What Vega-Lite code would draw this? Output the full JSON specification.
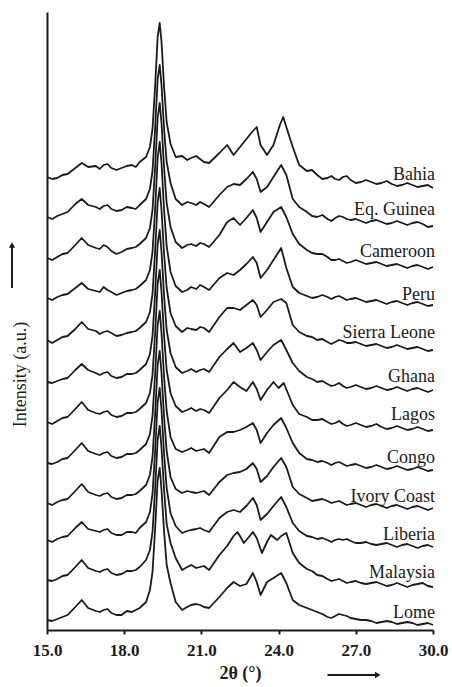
{
"$schema": "https://vega.github.io/schema/vega-lite/v6.json",
"width": 386, "height": 618,
"autosize": "none",
"padding": {"left": 47, "top": 12, "right": 19, "bottom": 57},
"background": "white",
"config": {"view": {"stroke": null}, "font": "Liberation Serif"},
"datasets": {
"xrd": [
{"s":"Bahia","x":15.0,"y":453},{"s":"Bahia","x":15.4,"y":452},{"s":"Bahia","x":15.8,"y":456},{"s":"Bahia","x":16.1,"y":462},{"s":"Bahia","x":16.35,"y":467},{"s":"Bahia","x":16.6,"y":463},{"s":"Bahia","x":16.9,"y":464},{"s":"Bahia","x":17.2,"y":465},{"s":"Bahia","x":17.5,"y":462},{"s":"Bahia","x":17.9,"y":462},{"s":"Bahia","x":18.3,"y":465},{"s":"Bahia","x":18.6,"y":468},{"s":"Bahia","x":18.85,"y":473},{"s":"Bahia","x":19.0,"y":483},{"s":"Bahia","x":19.1,"y":501},{"s":"Bahia","x":19.2,"y":543},{"s":"Bahia","x":19.3,"y":593},{"s":"Bahia","x":19.38,"y":607},{"s":"Bahia","x":19.45,"y":588},{"s":"Bahia","x":19.55,"y":543},{"s":"Bahia","x":19.65,"y":508},{"s":"Bahia","x":19.8,"y":486},{"s":"Bahia","x":20.0,"y":473},{"s":"Bahia","x":20.25,"y":474},{"s":"Bahia","x":20.6,"y":472},{"s":"Bahia","x":20.95,"y":471},{"s":"Bahia","x":21.3,"y":467},{"s":"Bahia","x":21.7,"y":477},{"s":"Bahia","x":22.0,"y":485},{"s":"Bahia","x":22.25,"y":475},{"s":"Bahia","x":22.5,"y":483},{"s":"Bahia","x":22.75,"y":491},{"s":"Bahia","x":23.0,"y":499},{"s":"Bahia","x":23.15,"y":503},{"s":"Bahia","x":23.3,"y":485},{"s":"Bahia","x":23.55,"y":475},{"s":"Bahia","x":23.8,"y":485},{"s":"Bahia","x":24.05,"y":505},{"s":"Bahia","x":24.18,"y":513},{"s":"Bahia","x":24.3,"y":503},{"s":"Bahia","x":24.55,"y":483},{"s":"Bahia","x":24.8,"y":465},{"s":"Bahia","x":25.1,"y":459},{"s":"Bahia","x":25.3,"y":460},{"s":"Bahia","x":25.5,"y":455},{"s":"Bahia","x":25.9,"y":452},{"s":"Bahia","x":26.2,"y":451},{"s":"Bahia","x":26.5,"y":453},{"s":"Bahia","x":26.8,"y":450},{"s":"Bahia","x":27.2,"y":448},{"s":"Bahia","x":27.6,"y":448},{"s":"Bahia","x":28.0,"y":447},{"s":"Bahia","x":28.4,"y":446},{"s":"Bahia","x":28.8,"y":445},{"s":"Bahia","x":29.2,"y":445},{"s":"Bahia","x":29.6,"y":444},{"s":"Bahia","x":30.0,"y":442},
{"s":"Bahia","x":25.7,"y":451},{"s":"Bahia","x":26.05,"y":454},{"s":"Bahia","x":26.35,"y":450},{"s":"Bahia","x":26.65,"y":454},{"s":"Bahia","x":27.0,"y":447},{"s":"Bahia","x":27.4,"y":450},{"s":"Bahia","x":27.8,"y":446},{"s":"Bahia","x":28.2,"y":449},{"s":"Bahia","x":28.6,"y":444},{"s":"Bahia","x":29.0,"y":447},{"s":"Bahia","x":29.4,"y":443},{"s":"Bahia","x":29.8,"y":445},{"s":"Bahia","x":15.2,"y":451},{"s":"Bahia","x":15.6,"y":455},{"s":"Bahia","x":17.05,"y":461},{"s":"Bahia","x":17.35,"y":466},{"s":"Bahia","x":17.7,"y":460},{"s":"Bahia","x":18.1,"y":464},{"s":"Bahia","x":18.45,"y":463},{"s":"Bahia","x":20.45,"y":470},{"s":"Bahia","x":20.8,"y":474},{"s":"Bahia","x":21.1,"y":468},
{"s":"Eq. Guinea","x":15.0,"y":413},{"s":"Eq. Guinea","x":15.4,"y":414},{"s":"Eq. Guinea","x":15.8,"y":418},{"s":"Eq. Guinea","x":16.1,"y":426},{"s":"Eq. Guinea","x":16.35,"y":431},{"s":"Eq. Guinea","x":16.6,"y":425},{"s":"Eq. Guinea","x":16.9,"y":423},{"s":"Eq. Guinea","x":17.2,"y":424},{"s":"Eq. Guinea","x":17.5,"y":421},{"s":"Eq. Guinea","x":17.9,"y":420},{"s":"Eq. Guinea","x":18.3,"y":422},{"s":"Eq. Guinea","x":18.6,"y":425},{"s":"Eq. Guinea","x":18.85,"y":431},{"s":"Eq. Guinea","x":19.0,"y":441},{"s":"Eq. Guinea","x":19.1,"y":459},{"s":"Eq. Guinea","x":19.2,"y":501},{"s":"Eq. Guinea","x":19.3,"y":551},{"s":"Eq. Guinea","x":19.38,"y":565},{"s":"Eq. Guinea","x":19.45,"y":545},{"s":"Eq. Guinea","x":19.55,"y":501},{"s":"Eq. Guinea","x":19.65,"y":468},{"s":"Eq. Guinea","x":19.8,"y":447},{"s":"Eq. Guinea","x":20.0,"y":431},{"s":"Eq. Guinea","x":20.25,"y":425},{"s":"Eq. Guinea","x":20.6,"y":427},{"s":"Eq. Guinea","x":20.95,"y":428},{"s":"Eq. Guinea","x":21.3,"y":423},{"s":"Eq. Guinea","x":21.7,"y":435},{"s":"Eq. Guinea","x":22.0,"y":443},{"s":"Eq. Guinea","x":22.25,"y":446},{"s":"Eq. Guinea","x":22.5,"y":445},{"s":"Eq. Guinea","x":22.75,"y":451},{"s":"Eq. Guinea","x":23.0,"y":458},{"s":"Eq. Guinea","x":23.15,"y":451},{"s":"Eq. Guinea","x":23.3,"y":438},{"s":"Eq. Guinea","x":23.55,"y":443},{"s":"Eq. Guinea","x":23.8,"y":453},{"s":"Eq. Guinea","x":24.1,"y":465},{"s":"Eq. Guinea","x":24.3,"y":455},{"s":"Eq. Guinea","x":24.55,"y":431},{"s":"Eq. Guinea","x":24.8,"y":423},{"s":"Eq. Guinea","x":25.1,"y":418},{"s":"Eq. Guinea","x":25.5,"y":413},{"s":"Eq. Guinea","x":25.9,"y":411},{"s":"Eq. Guinea","x":26.2,"y":412},{"s":"Eq. Guinea","x":26.5,"y":413},{"s":"Eq. Guinea","x":26.8,"y":410},{"s":"Eq. Guinea","x":27.2,"y":409},{"s":"Eq. Guinea","x":27.6,"y":409},{"s":"Eq. Guinea","x":28.0,"y":408},{"s":"Eq. Guinea","x":28.4,"y":407},{"s":"Eq. Guinea","x":28.8,"y":407},{"s":"Eq. Guinea","x":29.2,"y":407},{"s":"Eq. Guinea","x":29.6,"y":406},{"s":"Eq. Guinea","x":30.0,"y":404},
{"s":"Eq. Guinea","x":25.3,"y":414},{"s":"Eq. Guinea","x":25.7,"y":415},{"s":"Eq. Guinea","x":26.05,"y":409},{"s":"Eq. Guinea","x":26.35,"y":414},{"s":"Eq. Guinea","x":26.65,"y":411},{"s":"Eq. Guinea","x":27.0,"y":411},{"s":"Eq. Guinea","x":27.4,"y":407},{"s":"Eq. Guinea","x":27.8,"y":410},{"s":"Eq. Guinea","x":28.2,"y":406},{"s":"Eq. Guinea","x":28.6,"y":409},{"s":"Eq. Guinea","x":29.0,"y":405},{"s":"Eq. Guinea","x":29.4,"y":408},{"s":"Eq. Guinea","x":29.8,"y":403},{"s":"Eq. Guinea","x":15.2,"y":411},{"s":"Eq. Guinea","x":15.6,"y":416},{"s":"Eq. Guinea","x":17.05,"y":421},{"s":"Eq. Guinea","x":17.35,"y":425},{"s":"Eq. Guinea","x":17.7,"y":419},{"s":"Eq. Guinea","x":18.1,"y":423},{"s":"Eq. Guinea","x":18.45,"y":421},{"s":"Eq. Guinea","x":20.45,"y":428},{"s":"Eq. Guinea","x":20.8,"y":425},{"s":"Eq. Guinea","x":21.1,"y":426},
{"s":"Cameroon","x":15.0,"y":372},{"s":"Cameroon","x":15.4,"y":373},{"s":"Cameroon","x":15.8,"y":377},{"s":"Cameroon","x":16.1,"y":385},{"s":"Cameroon","x":16.35,"y":392},{"s":"Cameroon","x":16.6,"y":385},{"s":"Cameroon","x":16.9,"y":382},{"s":"Cameroon","x":17.2,"y":385},{"s":"Cameroon","x":17.5,"y":379},{"s":"Cameroon","x":17.9,"y":378},{"s":"Cameroon","x":18.3,"y":382},{"s":"Cameroon","x":18.6,"y":386},{"s":"Cameroon","x":18.85,"y":392},{"s":"Cameroon","x":19.0,"y":402},{"s":"Cameroon","x":19.1,"y":420},{"s":"Cameroon","x":19.2,"y":462},{"s":"Cameroon","x":19.3,"y":512},{"s":"Cameroon","x":19.38,"y":527},{"s":"Cameroon","x":19.45,"y":507},{"s":"Cameroon","x":19.55,"y":462},{"s":"Cameroon","x":19.65,"y":427},{"s":"Cameroon","x":19.8,"y":403},{"s":"Cameroon","x":20.0,"y":388},{"s":"Cameroon","x":20.25,"y":382},{"s":"Cameroon","x":20.6,"y":386},{"s":"Cameroon","x":20.95,"y":387},{"s":"Cameroon","x":21.3,"y":383},{"s":"Cameroon","x":21.7,"y":395},{"s":"Cameroon","x":22.0,"y":408},{"s":"Cameroon","x":22.25,"y":412},{"s":"Cameroon","x":22.5,"y":405},{"s":"Cameroon","x":22.75,"y":412},{"s":"Cameroon","x":23.0,"y":420},{"s":"Cameroon","x":23.15,"y":412},{"s":"Cameroon","x":23.3,"y":398},{"s":"Cameroon","x":23.55,"y":408},{"s":"Cameroon","x":23.8,"y":418},{"s":"Cameroon","x":24.1,"y":423},{"s":"Cameroon","x":24.3,"y":413},{"s":"Cameroon","x":24.55,"y":396},{"s":"Cameroon","x":24.8,"y":386},{"s":"Cameroon","x":25.1,"y":380},{"s":"Cameroon","x":25.5,"y":376},{"s":"Cameroon","x":25.9,"y":373},{"s":"Cameroon","x":26.2,"y":370},{"s":"Cameroon","x":26.5,"y":369},{"s":"Cameroon","x":26.8,"y":368},{"s":"Cameroon","x":27.2,"y":368},{"s":"Cameroon","x":27.6,"y":367},{"s":"Cameroon","x":28.0,"y":366},{"s":"Cameroon","x":28.4,"y":365},{"s":"Cameroon","x":28.8,"y":364},{"s":"Cameroon","x":29.2,"y":364},{"s":"Cameroon","x":29.6,"y":363},{"s":"Cameroon","x":30.0,"y":363},
{"s":"Cameroon","x":25.3,"y":377},{"s":"Cameroon","x":25.7,"y":376},{"s":"Cameroon","x":26.05,"y":370},{"s":"Cameroon","x":26.35,"y":371},{"s":"Cameroon","x":26.65,"y":367},{"s":"Cameroon","x":27.0,"y":370},{"s":"Cameroon","x":27.4,"y":366},{"s":"Cameroon","x":27.8,"y":368},{"s":"Cameroon","x":28.2,"y":364},{"s":"Cameroon","x":28.6,"y":366},{"s":"Cameroon","x":29.0,"y":362},{"s":"Cameroon","x":29.4,"y":365},{"s":"Cameroon","x":29.8,"y":361},{"s":"Cameroon","x":15.2,"y":370},{"s":"Cameroon","x":15.6,"y":376},{"s":"Cameroon","x":17.05,"y":381},{"s":"Cameroon","x":17.35,"y":383},{"s":"Cameroon","x":17.7,"y":376},{"s":"Cameroon","x":18.1,"y":381},{"s":"Cameroon","x":18.45,"y":383},{"s":"Cameroon","x":20.45,"y":385},{"s":"Cameroon","x":20.8,"y":384},{"s":"Cameroon","x":21.1,"y":386},
{"s":"Peru","x":15.0,"y":332},{"s":"Peru","x":15.4,"y":333},{"s":"Peru","x":15.8,"y":336},{"s":"Peru","x":16.1,"y":342},{"s":"Peru","x":16.35,"y":347},{"s":"Peru","x":16.6,"y":341},{"s":"Peru","x":16.9,"y":339},{"s":"Peru","x":17.2,"y":343},{"s":"Peru","x":17.5,"y":338},{"s":"Peru","x":17.9,"y":337},{"s":"Peru","x":18.3,"y":340},{"s":"Peru","x":18.6,"y":344},{"s":"Peru","x":18.85,"y":350},{"s":"Peru","x":19.0,"y":360},{"s":"Peru","x":19.1,"y":378},{"s":"Peru","x":19.2,"y":420},{"s":"Peru","x":19.3,"y":472},{"s":"Peru","x":19.38,"y":488},{"s":"Peru","x":19.45,"y":467},{"s":"Peru","x":19.55,"y":420},{"s":"Peru","x":19.65,"y":384},{"s":"Peru","x":19.8,"y":358},{"s":"Peru","x":20.0,"y":344},{"s":"Peru","x":20.25,"y":338},{"s":"Peru","x":20.6,"y":343},{"s":"Peru","x":20.95,"y":345},{"s":"Peru","x":21.3,"y":340},{"s":"Peru","x":21.7,"y":352},{"s":"Peru","x":22.0,"y":357},{"s":"Peru","x":22.25,"y":355},{"s":"Peru","x":22.5,"y":360},{"s":"Peru","x":22.75,"y":366},{"s":"Peru","x":23.0,"y":373},{"s":"Peru","x":23.15,"y":367},{"s":"Peru","x":23.3,"y":352},{"s":"Peru","x":23.55,"y":360},{"s":"Peru","x":23.8,"y":370},{"s":"Peru","x":24.1,"y":382},{"s":"Peru","x":24.3,"y":362},{"s":"Peru","x":24.55,"y":343},{"s":"Peru","x":24.8,"y":337},{"s":"Peru","x":25.1,"y":334},{"s":"Peru","x":25.5,"y":333},{"s":"Peru","x":25.9,"y":333},{"s":"Peru","x":26.2,"y":333},{"s":"Peru","x":26.5,"y":332},{"s":"Peru","x":26.8,"y":331},{"s":"Peru","x":27.2,"y":330},{"s":"Peru","x":27.6,"y":329},{"s":"Peru","x":28.0,"y":328},{"s":"Peru","x":28.4,"y":328},{"s":"Peru","x":28.8,"y":327},{"s":"Peru","x":29.2,"y":327},{"s":"Peru","x":29.6,"y":326},{"s":"Peru","x":30.0,"y":325},
{"s":"Peru","x":25.3,"y":332},{"s":"Peru","x":25.7,"y":335},{"s":"Peru","x":26.05,"y":331},{"s":"Peru","x":26.35,"y":334},{"s":"Peru","x":26.65,"y":330},{"s":"Peru","x":27.0,"y":332},{"s":"Peru","x":27.4,"y":328},{"s":"Peru","x":27.8,"y":330},{"s":"Peru","x":28.2,"y":326},{"s":"Peru","x":28.6,"y":329},{"s":"Peru","x":29.0,"y":325},{"s":"Peru","x":29.4,"y":328},{"s":"Peru","x":29.8,"y":324},{"s":"Peru","x":15.2,"y":330},{"s":"Peru","x":15.6,"y":335},{"s":"Peru","x":17.05,"y":338},{"s":"Peru","x":17.35,"y":340},{"s":"Peru","x":17.7,"y":335},{"s":"Peru","x":18.1,"y":339},{"s":"Peru","x":18.45,"y":341},{"s":"Peru","x":20.45,"y":340},{"s":"Peru","x":20.8,"y":341},{"s":"Peru","x":21.1,"y":343},
{"s":"Sierra Leone","x":15.0,"y":290},{"s":"Sierra Leone","x":15.4,"y":290},{"s":"Sierra Leone","x":15.8,"y":294},{"s":"Sierra Leone","x":16.1,"y":301},{"s":"Sierra Leone","x":16.35,"y":308},{"s":"Sierra Leone","x":16.6,"y":301},{"s":"Sierra Leone","x":16.9,"y":299},{"s":"Sierra Leone","x":17.2,"y":298},{"s":"Sierra Leone","x":17.5,"y":297},{"s":"Sierra Leone","x":17.9,"y":295},{"s":"Sierra Leone","x":18.3,"y":298},{"s":"Sierra Leone","x":18.6,"y":302},{"s":"Sierra Leone","x":18.85,"y":308},{"s":"Sierra Leone","x":19.0,"y":318},{"s":"Sierra Leone","x":19.1,"y":336},{"s":"Sierra Leone","x":19.2,"y":378},{"s":"Sierra Leone","x":19.3,"y":428},{"s":"Sierra Leone","x":19.38,"y":442},{"s":"Sierra Leone","x":19.45,"y":420},{"s":"Sierra Leone","x":19.55,"y":376},{"s":"Sierra Leone","x":19.65,"y":342},{"s":"Sierra Leone","x":19.8,"y":317},{"s":"Sierra Leone","x":20.0,"y":304},{"s":"Sierra Leone","x":20.25,"y":298},{"s":"Sierra Leone","x":20.6,"y":301},{"s":"Sierra Leone","x":20.95,"y":303},{"s":"Sierra Leone","x":21.3,"y":298},{"s":"Sierra Leone","x":21.7,"y":313},{"s":"Sierra Leone","x":22.0,"y":322},{"s":"Sierra Leone","x":22.25,"y":322},{"s":"Sierra Leone","x":22.5,"y":320},{"s":"Sierra Leone","x":22.75,"y":325},{"s":"Sierra Leone","x":23.0,"y":330},{"s":"Sierra Leone","x":23.15,"y":325},{"s":"Sierra Leone","x":23.3,"y":313},{"s":"Sierra Leone","x":23.55,"y":320},{"s":"Sierra Leone","x":23.8,"y":328},{"s":"Sierra Leone","x":24.1,"y":331},{"s":"Sierra Leone","x":24.3,"y":327},{"s":"Sierra Leone","x":24.55,"y":305},{"s":"Sierra Leone","x":24.8,"y":298},{"s":"Sierra Leone","x":25.1,"y":294},{"s":"Sierra Leone","x":25.5,"y":290},{"s":"Sierra Leone","x":25.9,"y":288},{"s":"Sierra Leone","x":26.2,"y":288},{"s":"Sierra Leone","x":26.5,"y":289},{"s":"Sierra Leone","x":26.8,"y":287},{"s":"Sierra Leone","x":27.2,"y":286},{"s":"Sierra Leone","x":27.6,"y":285},{"s":"Sierra Leone","x":28.0,"y":284},{"s":"Sierra Leone","x":28.4,"y":283},{"s":"Sierra Leone","x":28.8,"y":283},{"s":"Sierra Leone","x":29.2,"y":282},{"s":"Sierra Leone","x":29.6,"y":281},{"s":"Sierra Leone","x":30.0,"y":280},
{"s":"Sierra Leone","x":25.3,"y":293},{"s":"Sierra Leone","x":25.7,"y":291},{"s":"Sierra Leone","x":26.05,"y":286},{"s":"Sierra Leone","x":26.35,"y":290},{"s":"Sierra Leone","x":26.65,"y":287},{"s":"Sierra Leone","x":27.0,"y":288},{"s":"Sierra Leone","x":27.4,"y":284},{"s":"Sierra Leone","x":27.8,"y":286},{"s":"Sierra Leone","x":28.2,"y":282},{"s":"Sierra Leone","x":28.6,"y":285},{"s":"Sierra Leone","x":29.0,"y":281},{"s":"Sierra Leone","x":29.4,"y":283},{"s":"Sierra Leone","x":29.8,"y":279},{"s":"Sierra Leone","x":15.2,"y":287},{"s":"Sierra Leone","x":15.6,"y":293},{"s":"Sierra Leone","x":17.05,"y":296},{"s":"Sierra Leone","x":17.35,"y":299},{"s":"Sierra Leone","x":17.7,"y":294},{"s":"Sierra Leone","x":18.1,"y":297},{"s":"Sierra Leone","x":18.45,"y":299},{"s":"Sierra Leone","x":20.45,"y":302},{"s":"Sierra Leone","x":20.8,"y":300},{"s":"Sierra Leone","x":21.1,"y":302},
{"s":"Ghana","x":15.0,"y":248},{"s":"Ghana","x":15.4,"y":249},{"s":"Ghana","x":15.8,"y":252},{"s":"Ghana","x":16.1,"y":260},{"s":"Ghana","x":16.35,"y":266},{"s":"Ghana","x":16.6,"y":260},{"s":"Ghana","x":16.9,"y":257},{"s":"Ghana","x":17.2,"y":257},{"s":"Ghana","x":17.5,"y":254},{"s":"Ghana","x":17.9,"y":253},{"s":"Ghana","x":18.3,"y":256},{"s":"Ghana","x":18.6,"y":260},{"s":"Ghana","x":18.85,"y":266},{"s":"Ghana","x":19.0,"y":276},{"s":"Ghana","x":19.1,"y":294},{"s":"Ghana","x":19.2,"y":336},{"s":"Ghana","x":19.3,"y":386},{"s":"Ghana","x":19.38,"y":400},{"s":"Ghana","x":19.45,"y":378},{"s":"Ghana","x":19.55,"y":334},{"s":"Ghana","x":19.65,"y":300},{"s":"Ghana","x":19.8,"y":277},{"s":"Ghana","x":20.0,"y":263},{"s":"Ghana","x":20.25,"y":257},{"s":"Ghana","x":20.6,"y":261},{"s":"Ghana","x":20.95,"y":260},{"s":"Ghana","x":21.3,"y":258},{"s":"Ghana","x":21.7,"y":273},{"s":"Ghana","x":22.0,"y":281},{"s":"Ghana","x":22.25,"y":287},{"s":"Ghana","x":22.5,"y":278},{"s":"Ghana","x":22.75,"y":282},{"s":"Ghana","x":23.0,"y":287},{"s":"Ghana","x":23.15,"y":280},{"s":"Ghana","x":23.3,"y":270},{"s":"Ghana","x":23.55,"y":278},{"s":"Ghana","x":23.8,"y":285},{"s":"Ghana","x":24.1,"y":290},{"s":"Ghana","x":24.3,"y":280},{"s":"Ghana","x":24.55,"y":267},{"s":"Ghana","x":24.8,"y":259},{"s":"Ghana","x":25.1,"y":253},{"s":"Ghana","x":25.5,"y":248},{"s":"Ghana","x":25.9,"y":246},{"s":"Ghana","x":26.2,"y":245},{"s":"Ghana","x":26.5,"y":244},{"s":"Ghana","x":26.8,"y":243},{"s":"Ghana","x":27.2,"y":243},{"s":"Ghana","x":27.6,"y":242},{"s":"Ghana","x":28.0,"y":242},{"s":"Ghana","x":28.4,"y":241},{"s":"Ghana","x":28.8,"y":241},{"s":"Ghana","x":29.2,"y":241},{"s":"Ghana","x":29.6,"y":240},{"s":"Ghana","x":30.0,"y":240},
{"s":"Ghana","x":25.3,"y":251},{"s":"Ghana","x":25.7,"y":249},{"s":"Ghana","x":26.05,"y":244},{"s":"Ghana","x":26.35,"y":247},{"s":"Ghana","x":26.65,"y":242},{"s":"Ghana","x":27.0,"y":245},{"s":"Ghana","x":27.4,"y":241},{"s":"Ghana","x":27.8,"y":244},{"s":"Ghana","x":28.2,"y":240},{"s":"Ghana","x":28.6,"y":243},{"s":"Ghana","x":29.0,"y":239},{"s":"Ghana","x":29.4,"y":242},{"s":"Ghana","x":29.8,"y":238},{"s":"Ghana","x":15.2,"y":247},{"s":"Ghana","x":15.6,"y":251},{"s":"Ghana","x":17.05,"y":255},{"s":"Ghana","x":17.35,"y":258},{"s":"Ghana","x":17.7,"y":252},{"s":"Ghana","x":18.1,"y":256},{"s":"Ghana","x":18.45,"y":257},{"s":"Ghana","x":20.45,"y":259},{"s":"Ghana","x":20.8,"y":258},{"s":"Ghana","x":21.1,"y":261},
{"s":"Lagos","x":15.0,"y":208},{"s":"Lagos","x":15.4,"y":209},{"s":"Lagos","x":15.8,"y":213},{"s":"Lagos","x":16.1,"y":221},{"s":"Lagos","x":16.35,"y":228},{"s":"Lagos","x":16.6,"y":220},{"s":"Lagos","x":16.9,"y":217},{"s":"Lagos","x":17.2,"y":218},{"s":"Lagos","x":17.5,"y":215},{"s":"Lagos","x":17.9,"y":214},{"s":"Lagos","x":18.3,"y":217},{"s":"Lagos","x":18.6,"y":221},{"s":"Lagos","x":18.85,"y":227},{"s":"Lagos","x":19.0,"y":237},{"s":"Lagos","x":19.1,"y":255},{"s":"Lagos","x":19.2,"y":296},{"s":"Lagos","x":19.3,"y":346},{"s":"Lagos","x":19.38,"y":360},{"s":"Lagos","x":19.45,"y":338},{"s":"Lagos","x":19.55,"y":294},{"s":"Lagos","x":19.65,"y":260},{"s":"Lagos","x":19.8,"y":237},{"s":"Lagos","x":20.0,"y":224},{"s":"Lagos","x":20.25,"y":218},{"s":"Lagos","x":20.6,"y":222},{"s":"Lagos","x":20.95,"y":221},{"s":"Lagos","x":21.3,"y":217},{"s":"Lagos","x":21.7,"y":232},{"s":"Lagos","x":22.0,"y":240},{"s":"Lagos","x":22.25,"y":248},{"s":"Lagos","x":22.5,"y":243},{"s":"Lagos","x":22.75,"y":239},{"s":"Lagos","x":23.0,"y":248},{"s":"Lagos","x":23.15,"y":241},{"s":"Lagos","x":23.3,"y":230},{"s":"Lagos","x":23.55,"y":240},{"s":"Lagos","x":23.8,"y":248},{"s":"Lagos","x":24.0,"y":242},{"s":"Lagos","x":24.2,"y":247},{"s":"Lagos","x":24.55,"y":225},{"s":"Lagos","x":24.8,"y":216},{"s":"Lagos","x":25.1,"y":213},{"s":"Lagos","x":25.5,"y":210},{"s":"Lagos","x":25.9,"y":208},{"s":"Lagos","x":26.2,"y":207},{"s":"Lagos","x":26.5,"y":206},{"s":"Lagos","x":26.8,"y":205},{"s":"Lagos","x":27.2,"y":205},{"s":"Lagos","x":27.6,"y":204},{"s":"Lagos","x":28.0,"y":203},{"s":"Lagos","x":28.4,"y":202},{"s":"Lagos","x":28.8,"y":202},{"s":"Lagos","x":29.2,"y":201},{"s":"Lagos","x":29.6,"y":201},{"s":"Lagos","x":30.0,"y":200},
{"s":"Lagos","x":25.3,"y":210},{"s":"Lagos","x":25.7,"y":211},{"s":"Lagos","x":26.05,"y":206},{"s":"Lagos","x":26.35,"y":209},{"s":"Lagos","x":26.65,"y":204},{"s":"Lagos","x":27.0,"y":207},{"s":"Lagos","x":27.4,"y":203},{"s":"Lagos","x":27.8,"y":206},{"s":"Lagos","x":28.2,"y":201},{"s":"Lagos","x":28.6,"y":204},{"s":"Lagos","x":29.0,"y":200},{"s":"Lagos","x":29.4,"y":203},{"s":"Lagos","x":29.8,"y":199},{"s":"Lagos","x":15.2,"y":206},{"s":"Lagos","x":15.6,"y":212},{"s":"Lagos","x":17.05,"y":216},{"s":"Lagos","x":17.35,"y":219},{"s":"Lagos","x":17.7,"y":213},{"s":"Lagos","x":18.1,"y":217},{"s":"Lagos","x":18.45,"y":218},{"s":"Lagos","x":20.45,"y":220},{"s":"Lagos","x":20.8,"y":219},{"s":"Lagos","x":21.1,"y":220},
{"s":"Congo","x":15.0,"y":167},{"s":"Congo","x":15.4,"y":168},{"s":"Congo","x":15.8,"y":172},{"s":"Congo","x":16.1,"y":180},{"s":"Congo","x":16.35,"y":187},{"s":"Congo","x":16.6,"y":179},{"s":"Congo","x":16.9,"y":176},{"s":"Congo","x":17.2,"y":177},{"s":"Congo","x":17.5,"y":174},{"s":"Congo","x":17.9,"y":173},{"s":"Congo","x":18.3,"y":176},{"s":"Congo","x":18.6,"y":180},{"s":"Congo","x":18.85,"y":186},{"s":"Congo","x":19.0,"y":196},{"s":"Congo","x":19.1,"y":214},{"s":"Congo","x":19.2,"y":255},{"s":"Congo","x":19.3,"y":305},{"s":"Congo","x":19.38,"y":319},{"s":"Congo","x":19.45,"y":297},{"s":"Congo","x":19.55,"y":253},{"s":"Congo","x":19.65,"y":219},{"s":"Congo","x":19.8,"y":193},{"s":"Congo","x":20.0,"y":181},{"s":"Congo","x":20.25,"y":178},{"s":"Congo","x":20.6,"y":182},{"s":"Congo","x":20.95,"y":180},{"s":"Congo","x":21.3,"y":177},{"s":"Congo","x":21.7,"y":193},{"s":"Congo","x":22.0,"y":198},{"s":"Congo","x":22.25,"y":198},{"s":"Congo","x":22.5,"y":200},{"s":"Congo","x":22.75,"y":203},{"s":"Congo","x":23.0,"y":207},{"s":"Congo","x":23.15,"y":200},{"s":"Congo","x":23.3,"y":187},{"s":"Congo","x":23.55,"y":197},{"s":"Congo","x":23.8,"y":205},{"s":"Congo","x":24.1,"y":212},{"s":"Congo","x":24.3,"y":202},{"s":"Congo","x":24.55,"y":187},{"s":"Congo","x":24.8,"y":177},{"s":"Congo","x":25.1,"y":171},{"s":"Congo","x":25.5,"y":168},{"s":"Congo","x":25.9,"y":167},{"s":"Congo","x":26.2,"y":167},{"s":"Congo","x":26.5,"y":166},{"s":"Congo","x":26.8,"y":165},{"s":"Congo","x":27.2,"y":164},{"s":"Congo","x":27.6,"y":163},{"s":"Congo","x":28.0,"y":163},{"s":"Congo","x":28.4,"y":162},{"s":"Congo","x":28.8,"y":162},{"s":"Congo","x":29.2,"y":161},{"s":"Congo","x":29.6,"y":161},{"s":"Congo","x":30.0,"y":160},
{"s":"Congo","x":25.3,"y":170},{"s":"Congo","x":25.7,"y":169},{"s":"Congo","x":26.05,"y":165},{"s":"Congo","x":26.35,"y":168},{"s":"Congo","x":26.65,"y":164},{"s":"Congo","x":27.0,"y":166},{"s":"Congo","x":27.4,"y":162},{"s":"Congo","x":27.8,"y":165},{"s":"Congo","x":28.2,"y":161},{"s":"Congo","x":28.6,"y":164},{"s":"Congo","x":29.0,"y":160},{"s":"Congo","x":29.4,"y":163},{"s":"Congo","x":29.8,"y":159},{"s":"Congo","x":15.2,"y":166},{"s":"Congo","x":15.6,"y":171},{"s":"Congo","x":17.05,"y":175},{"s":"Congo","x":17.35,"y":178},{"s":"Congo","x":17.7,"y":172},{"s":"Congo","x":18.1,"y":176},{"s":"Congo","x":18.45,"y":177},{"s":"Congo","x":20.45,"y":180},{"s":"Congo","x":20.8,"y":179},{"s":"Congo","x":21.1,"y":181},
{"s":"Ivory Coast","x":15.0,"y":127},{"s":"Ivory Coast","x":15.4,"y":128},{"s":"Ivory Coast","x":15.8,"y":131},{"s":"Ivory Coast","x":16.1,"y":139},{"s":"Ivory Coast","x":16.35,"y":146},{"s":"Ivory Coast","x":16.6,"y":138},{"s":"Ivory Coast","x":16.9,"y":135},{"s":"Ivory Coast","x":17.2,"y":136},{"s":"Ivory Coast","x":17.5,"y":133},{"s":"Ivory Coast","x":17.9,"y":132},{"s":"Ivory Coast","x":18.3,"y":135},{"s":"Ivory Coast","x":18.6,"y":139},{"s":"Ivory Coast","x":18.85,"y":145},{"s":"Ivory Coast","x":19.0,"y":155},{"s":"Ivory Coast","x":19.1,"y":173},{"s":"Ivory Coast","x":19.2,"y":215},{"s":"Ivory Coast","x":19.3,"y":265},{"s":"Ivory Coast","x":19.38,"y":279},{"s":"Ivory Coast","x":19.45,"y":257},{"s":"Ivory Coast","x":19.55,"y":213},{"s":"Ivory Coast","x":19.65,"y":179},{"s":"Ivory Coast","x":19.8,"y":153},{"s":"Ivory Coast","x":20.0,"y":141},{"s":"Ivory Coast","x":20.25,"y":137},{"s":"Ivory Coast","x":20.6,"y":138},{"s":"Ivory Coast","x":20.95,"y":138},{"s":"Ivory Coast","x":21.3,"y":135},{"s":"Ivory Coast","x":21.7,"y":148},{"s":"Ivory Coast","x":22.0,"y":155},{"s":"Ivory Coast","x":22.25,"y":157},{"s":"Ivory Coast","x":22.5,"y":158},{"s":"Ivory Coast","x":22.75,"y":161},{"s":"Ivory Coast","x":23.0,"y":167},{"s":"Ivory Coast","x":23.15,"y":161},{"s":"Ivory Coast","x":23.3,"y":148},{"s":"Ivory Coast","x":23.55,"y":154},{"s":"Ivory Coast","x":23.8,"y":163},{"s":"Ivory Coast","x":24.1,"y":172},{"s":"Ivory Coast","x":24.3,"y":163},{"s":"Ivory Coast","x":24.55,"y":143},{"s":"Ivory Coast","x":24.8,"y":136},{"s":"Ivory Coast","x":25.1,"y":132},{"s":"Ivory Coast","x":25.5,"y":130},{"s":"Ivory Coast","x":25.9,"y":129},{"s":"Ivory Coast","x":26.2,"y":128},{"s":"Ivory Coast","x":26.5,"y":127},{"s":"Ivory Coast","x":26.8,"y":126},{"s":"Ivory Coast","x":27.2,"y":125},{"s":"Ivory Coast","x":27.6,"y":125},{"s":"Ivory Coast","x":28.0,"y":124},{"s":"Ivory Coast","x":28.4,"y":124},{"s":"Ivory Coast","x":28.8,"y":123},{"s":"Ivory Coast","x":29.2,"y":123},{"s":"Ivory Coast","x":29.6,"y":122},{"s":"Ivory Coast","x":30.0,"y":122},
{"s":"Ivory Coast","x":25.3,"y":129},{"s":"Ivory Coast","x":25.7,"y":131},{"s":"Ivory Coast","x":26.05,"y":127},{"s":"Ivory Coast","x":26.35,"y":129},{"s":"Ivory Coast","x":26.65,"y":125},{"s":"Ivory Coast","x":27.0,"y":127},{"s":"Ivory Coast","x":27.4,"y":123},{"s":"Ivory Coast","x":27.8,"y":126},{"s":"Ivory Coast","x":28.2,"y":122},{"s":"Ivory Coast","x":28.6,"y":125},{"s":"Ivory Coast","x":29.0,"y":121},{"s":"Ivory Coast","x":29.4,"y":124},{"s":"Ivory Coast","x":29.8,"y":120},{"s":"Ivory Coast","x":15.2,"y":125},{"s":"Ivory Coast","x":15.6,"y":130},{"s":"Ivory Coast","x":17.05,"y":134},{"s":"Ivory Coast","x":17.35,"y":137},{"s":"Ivory Coast","x":17.7,"y":131},{"s":"Ivory Coast","x":18.1,"y":135},{"s":"Ivory Coast","x":18.45,"y":136},{"s":"Ivory Coast","x":20.45,"y":139},{"s":"Ivory Coast","x":20.8,"y":137},{"s":"Ivory Coast","x":21.1,"y":139},
{"s":"Liberia","x":15.0,"y":90},{"s":"Liberia","x":15.4,"y":91},{"s":"Liberia","x":15.8,"y":94},{"s":"Liberia","x":16.1,"y":102},{"s":"Liberia","x":16.35,"y":108},{"s":"Liberia","x":16.6,"y":101},{"s":"Liberia","x":16.9,"y":99},{"s":"Liberia","x":17.2,"y":100},{"s":"Liberia","x":17.5,"y":97},{"s":"Liberia","x":17.9,"y":95},{"s":"Liberia","x":18.3,"y":98},{"s":"Liberia","x":18.6,"y":102},{"s":"Liberia","x":18.85,"y":108},{"s":"Liberia","x":19.0,"y":118},{"s":"Liberia","x":19.1,"y":136},{"s":"Liberia","x":19.2,"y":178},{"s":"Liberia","x":19.3,"y":228},{"s":"Liberia","x":19.38,"y":242},{"s":"Liberia","x":19.45,"y":220},{"s":"Liberia","x":19.55,"y":176},{"s":"Liberia","x":19.65,"y":142},{"s":"Liberia","x":19.8,"y":117},{"s":"Liberia","x":20.0,"y":104},{"s":"Liberia","x":20.25,"y":97},{"s":"Liberia","x":20.6,"y":100},{"s":"Liberia","x":20.95,"y":102},{"s":"Liberia","x":21.3,"y":98},{"s":"Liberia","x":21.7,"y":112},{"s":"Liberia","x":22.0,"y":118},{"s":"Liberia","x":22.25,"y":120},{"s":"Liberia","x":22.5,"y":118},{"s":"Liberia","x":22.75,"y":124},{"s":"Liberia","x":23.0,"y":132},{"s":"Liberia","x":23.15,"y":125},{"s":"Liberia","x":23.3,"y":110},{"s":"Liberia","x":23.55,"y":116},{"s":"Liberia","x":23.8,"y":124},{"s":"Liberia","x":24.1,"y":133},{"s":"Liberia","x":24.3,"y":123},{"s":"Liberia","x":24.55,"y":107},{"s":"Liberia","x":24.8,"y":99},{"s":"Liberia","x":25.1,"y":94},{"s":"Liberia","x":25.5,"y":91},{"s":"Liberia","x":25.9,"y":90},{"s":"Liberia","x":26.2,"y":90},{"s":"Liberia","x":26.5,"y":90},{"s":"Liberia","x":26.8,"y":89},{"s":"Liberia","x":27.2,"y":87},{"s":"Liberia","x":27.6,"y":86},{"s":"Liberia","x":28.0,"y":86},{"s":"Liberia","x":28.4,"y":85},{"s":"Liberia","x":28.8,"y":85},{"s":"Liberia","x":29.2,"y":84},{"s":"Liberia","x":29.6,"y":84},{"s":"Liberia","x":30.0,"y":83},
{"s":"Liberia","x":25.3,"y":93},{"s":"Liberia","x":25.7,"y":92},{"s":"Liberia","x":26.05,"y":88},{"s":"Liberia","x":26.35,"y":91},{"s":"Liberia","x":26.65,"y":91},{"s":"Liberia","x":27.0,"y":87},{"s":"Liberia","x":27.4,"y":88},{"s":"Liberia","x":27.8,"y":85},{"s":"Liberia","x":28.2,"y":87},{"s":"Liberia","x":28.6,"y":83},{"s":"Liberia","x":29.0,"y":86},{"s":"Liberia","x":29.4,"y":82},{"s":"Liberia","x":29.8,"y":85},{"s":"Liberia","x":15.2,"y":88},{"s":"Liberia","x":15.6,"y":93},{"s":"Liberia","x":17.05,"y":98},{"s":"Liberia","x":17.35,"y":101},{"s":"Liberia","x":17.7,"y":95},{"s":"Liberia","x":18.1,"y":98},{"s":"Liberia","x":18.45,"y":97},{"s":"Liberia","x":20.45,"y":99},{"s":"Liberia","x":20.8,"y":101},{"s":"Liberia","x":21.1,"y":100},
{"s":"Malaysia","x":15.0,"y":50},{"s":"Malaysia","x":15.4,"y":51},{"s":"Malaysia","x":15.8,"y":55},{"s":"Malaysia","x":16.1,"y":63},{"s":"Malaysia","x":16.35,"y":70},{"s":"Malaysia","x":16.6,"y":62},{"s":"Malaysia","x":16.9,"y":59},{"s":"Malaysia","x":17.2,"y":60},{"s":"Malaysia","x":17.5,"y":57},{"s":"Malaysia","x":17.9,"y":56},{"s":"Malaysia","x":18.3,"y":59},{"s":"Malaysia","x":18.6,"y":63},{"s":"Malaysia","x":18.85,"y":70},{"s":"Malaysia","x":19.0,"y":80},{"s":"Malaysia","x":19.1,"y":98},{"s":"Malaysia","x":19.2,"y":140},{"s":"Malaysia","x":19.3,"y":190},{"s":"Malaysia","x":19.38,"y":204},{"s":"Malaysia","x":19.45,"y":182},{"s":"Malaysia","x":19.55,"y":140},{"s":"Malaysia","x":19.65,"y":106},{"s":"Malaysia","x":19.8,"y":87},{"s":"Malaysia","x":20.0,"y":72},{"s":"Malaysia","x":20.25,"y":60},{"s":"Malaysia","x":20.6,"y":65},{"s":"Malaysia","x":20.95,"y":63},{"s":"Malaysia","x":21.3,"y":60},{"s":"Malaysia","x":21.7,"y":75},{"s":"Malaysia","x":22.0,"y":84},{"s":"Malaysia","x":22.25,"y":94},{"s":"Malaysia","x":22.4,"y":98},{"s":"Malaysia","x":22.5,"y":94},{"s":"Malaysia","x":22.65,"y":87},{"s":"Malaysia","x":22.75,"y":90},{"s":"Malaysia","x":23.0,"y":98},{"s":"Malaysia","x":23.15,"y":92},{"s":"Malaysia","x":23.35,"y":77},{"s":"Malaysia","x":23.55,"y":88},{"s":"Malaysia","x":23.7,"y":95},{"s":"Malaysia","x":23.95,"y":90},{"s":"Malaysia","x":24.1,"y":94},{"s":"Malaysia","x":24.3,"y":97},{"s":"Malaysia","x":24.55,"y":77},{"s":"Malaysia","x":24.8,"y":67},{"s":"Malaysia","x":25.1,"y":61},{"s":"Malaysia","x":25.5,"y":55},{"s":"Malaysia","x":25.9,"y":51},{"s":"Malaysia","x":26.2,"y":50},{"s":"Malaysia","x":26.5,"y":49},{"s":"Malaysia","x":26.8,"y":48},{"s":"Malaysia","x":27.2,"y":47},{"s":"Malaysia","x":27.6,"y":47},{"s":"Malaysia","x":28.0,"y":46},{"s":"Malaysia","x":28.4,"y":45},{"s":"Malaysia","x":28.8,"y":45},{"s":"Malaysia","x":29.2,"y":45},{"s":"Malaysia","x":29.6,"y":47},{"s":"Malaysia","x":30.0,"y":43},
{"s":"Malaysia","x":25.3,"y":59},{"s":"Malaysia","x":25.7,"y":54},{"s":"Malaysia","x":26.05,"y":49},{"s":"Malaysia","x":26.35,"y":51},{"s":"Malaysia","x":26.65,"y":47},{"s":"Malaysia","x":27.0,"y":49},{"s":"Malaysia","x":27.4,"y":46},{"s":"Malaysia","x":27.8,"y":48},{"s":"Malaysia","x":28.2,"y":44},{"s":"Malaysia","x":28.6,"y":47},{"s":"Malaysia","x":29.0,"y":43},{"s":"Malaysia","x":29.4,"y":46},{"s":"Malaysia","x":29.8,"y":44},{"s":"Malaysia","x":15.2,"y":49},{"s":"Malaysia","x":15.6,"y":54},{"s":"Malaysia","x":17.05,"y":58},{"s":"Malaysia","x":17.35,"y":61},{"s":"Malaysia","x":17.7,"y":55},{"s":"Malaysia","x":18.1,"y":59},{"s":"Malaysia","x":18.45,"y":60},{"s":"Malaysia","x":20.45,"y":63},{"s":"Malaysia","x":20.8,"y":62},{"s":"Malaysia","x":21.1,"y":64},
{"s":"Lome","x":15.0,"y":10},{"s":"Lome","x":15.4,"y":11},{"s":"Lome","x":15.8,"y":15},{"s":"Lome","x":16.1,"y":23},{"s":"Lome","x":16.35,"y":30},{"s":"Lome","x":16.6,"y":22},{"s":"Lome","x":16.9,"y":19},{"s":"Lome","x":17.2,"y":20},{"s":"Lome","x":17.5,"y":17},{"s":"Lome","x":17.9,"y":15},{"s":"Lome","x":18.3,"y":18},{"s":"Lome","x":18.6,"y":22},{"s":"Lome","x":18.85,"y":28},{"s":"Lome","x":19.0,"y":40},{"s":"Lome","x":19.1,"y":58},{"s":"Lome","x":19.2,"y":100},{"s":"Lome","x":19.3,"y":150},{"s":"Lome","x":19.38,"y":162},{"s":"Lome","x":19.45,"y":140},{"s":"Lome","x":19.55,"y":98},{"s":"Lome","x":19.65,"y":65},{"s":"Lome","x":19.8,"y":47},{"s":"Lome","x":20.0,"y":28},{"s":"Lome","x":20.25,"y":20},{"s":"Lome","x":20.6,"y":25},{"s":"Lome","x":20.95,"y":25},{"s":"Lome","x":21.3,"y":22},{"s":"Lome","x":21.7,"y":33},{"s":"Lome","x":22.0,"y":42},{"s":"Lome","x":22.25,"y":48},{"s":"Lome","x":22.5,"y":44},{"s":"Lome","x":22.75,"y":46},{"s":"Lome","x":23.0,"y":57},{"s":"Lome","x":23.15,"y":48},{"s":"Lome","x":23.3,"y":35},{"s":"Lome","x":23.55,"y":48},{"s":"Lome","x":23.8,"y":52},{"s":"Lome","x":24.1,"y":57},{"s":"Lome","x":24.3,"y":47},{"s":"Lome","x":24.55,"y":30},{"s":"Lome","x":24.8,"y":25},{"s":"Lome","x":25.1,"y":22},{"s":"Lome","x":25.5,"y":18},{"s":"Lome","x":25.9,"y":13},{"s":"Lome","x":26.2,"y":14},{"s":"Lome","x":26.5,"y":15},{"s":"Lome","x":26.8,"y":12},{"s":"Lome","x":27.2,"y":10},{"s":"Lome","x":27.6,"y":9},{"s":"Lome","x":28.0,"y":8},{"s":"Lome","x":28.4,"y":8},{"s":"Lome","x":28.8,"y":7},{"s":"Lome","x":29.2,"y":7},{"s":"Lome","x":29.6,"y":6},{"s":"Lome","x":30.0,"y":5},
{"s":"Lome","x":25.3,"y":20},{"s":"Lome","x":25.7,"y":16},{"s":"Lome","x":26.05,"y":12},{"s":"Lome","x":26.35,"y":16},{"s":"Lome","x":26.65,"y":14},{"s":"Lome","x":27.0,"y":11},{"s":"Lome","x":27.4,"y":10},{"s":"Lome","x":27.8,"y":7},{"s":"Lome","x":28.2,"y":9},{"s":"Lome","x":28.6,"y":6},{"s":"Lome","x":29.0,"y":8},{"s":"Lome","x":29.4,"y":5},{"s":"Lome","x":29.8,"y":7},{"s":"Lome","x":15.2,"y":9},{"s":"Lome","x":15.6,"y":13},{"s":"Lome","x":17.05,"y":18},{"s":"Lome","x":17.35,"y":21},{"s":"Lome","x":17.7,"y":15},{"s":"Lome","x":18.1,"y":19},{"s":"Lome","x":18.45,"y":20},{"s":"Lome","x":20.45,"y":23},{"s":"Lome","x":20.8,"y":26},{"s":"Lome","x":21.1,"y":23}
],
"labels": [
{"s":"Bahia","x":30,"y":450},{"s":"Eq. Guinea","x":30,"y":415},{"s":"Cameroon","x":30,"y":373},{"s":"Peru","x":30,"y":330},{"s":"Sierra Leone","x":30,"y":292},{"s":"Ghana","x":30,"y":248},{"s":"Lagos","x":30,"y":210},{"s":"Congo","x":30,"y":167},{"s":"Ivory Coast","x":30,"y":128},{"s":"Liberia","x":30,"y":90},{"s":"Malaysia","x":30,"y":52},{"s":"Lome","x":30,"y":12}
],
"xarrow": [{"a":"x","x":25.9,"y":-45},{"a":"x","x":27.8,"y":-45}],
"yarrow": [{"a":"y","x":13.64,"y":342},{"a":"y","x":13.64,"y":383}],
"xhead": [{"x":27.85,"y":-45}],
"yhead": [{"x":13.64,"y":385}]
},
"layer": [
{
"data": {"name": "xrd"},
"mark": {"type": "line", "stroke": "#1a1a1a", "strokeWidth": 1.8, "strokeJoin": "round"},
"encoding": {
"x": {"field": "x", "type": "quantitative",
"scale": {"domain": [15, 30], "nice": false, "zero": false},
"axis": {"values": [15, 18, 21, 24, 27, 30], "format": ".1f", "title": "2θ  (°)", "grid": false,
"domainColor": "#1a1a1a", "domainWidth": 2, "tickColor": "#1a1a1a", "tickWidth": 2, "tickSize": 4,
"labelFont": "Liberation Serif", "labelFontSize": 17, "labelFontWeight": "bold", "labelColor": "#1a1a1a", "labelPadding": 8, "labelFlush": false,
"titleFont": "Liberation Serif", "titleFontSize": 18, "titleFontWeight": "bold", "titleColor": "#1a1a1a", "titlePadding": 6}},
"y": {"field": "y", "type": "quantitative",
"scale": {"domain": [0, 618], "nice": false, "zero": false},
"axis": {"labels": false, "ticks": false, "grid": false, "domainColor": "#1a1a1a", "domainWidth": 2,
"title": "Intensity  (a.u.)", "titleFont": "Liberation Serif", "titleFontSize": 18, "titleFontWeight": "normal", "titleColor": "#1a1a1a", "titlePadding": 18, "titleY": 362}},
"detail": {"field": "s"}
}
},
{
"data": {"name": "labels"},
"mark": {"type": "text", "align": "right", "baseline": "alphabetic", "font": "Liberation Serif", "fontSize": 18, "color": "#1a1a1a", "dx": 2},
"encoding": {"x": {"field": "x", "type": "quantitative"}, "y": {"field": "y", "type": "quantitative"}, "text": {"field": "s"}}
},
{
"data": {"name": "xarrow"},
"mark": {"type": "line", "stroke": "#1a1a1a", "strokeWidth": 2},
"encoding": {"x": {"field": "x", "type": "quantitative"}, "y": {"field": "y", "type": "quantitative"}}
},
{
"data": {"name": "yarrow"},
"mark": {"type": "line", "stroke": "#1a1a1a", "strokeWidth": 2},
"encoding": {"x": {"field": "x", "type": "quantitative"}, "y": {"field": "y", "type": "quantitative"}, "order": {"field": "y"}}
},
{
"data": {"name": "xhead"},
"mark": {"type": "point", "shape": "triangle-right", "filled": true, "color": "#1a1a1a", "size": 40, "opacity": 1},
"encoding": {"x": {"field": "x", "type": "quantitative"}, "y": {"field": "y", "type": "quantitative"}}
},
{
"data": {"name": "yhead"},
"mark": {"type": "point", "shape": "triangle-up", "filled": true, "color": "#1a1a1a", "size": 40, "opacity": 1},
"encoding": {"x": {"field": "x", "type": "quantitative"}, "y": {"field": "y", "type": "quantitative"}}
}
]
}
